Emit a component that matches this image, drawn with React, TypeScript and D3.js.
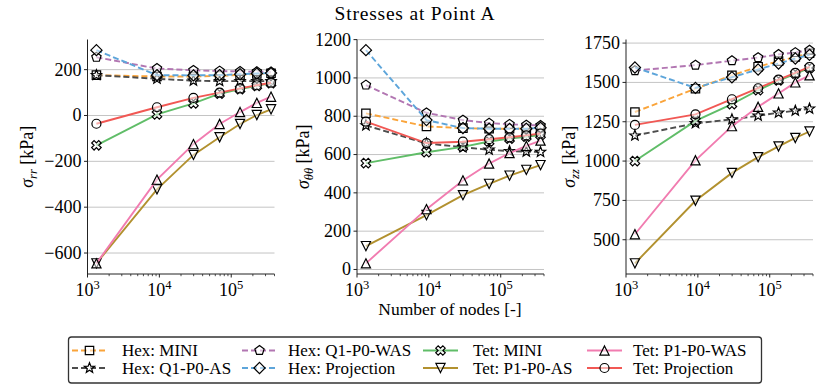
import { useRef, useEffect } from "react";
import * as d3 from "d3";

// number of nodes of the meshes
const nodeCounts = [1331, 9261, 29791, 68921, 132651, 226981, 357911];

const seriesNames = [
  "Hex: MINI",
  "Hex: Q1-P0-AS",
  "Hex: Q1-P0-WAS",
  "Hex: Projection",
  "Tet: MINI",
  "Tet: P1-P0-AS",
  "Tet: P1-P0-WAS",
  "Tet: Projection",
];
const seriesColors = ["#FAA43A", "#4D4D4D", "#B276B2", "#5DA5DA", "#60BD68", "#B2912F", "#F17CB0", "#F15854"];
const seriesDashed = [true, true, true, true, false, false, false, false];
const seriesMarkers = ["square", "star", "pentagon", "diamond", "x", "triDown", "triUp", "circle"];

// sigma_rr [kPa], rows in series order
const sigmaRR = [
  [176, 170, 170, 173, 177, 181, 184],
  [176, 160, 152, 150, 150, 150, 150],
  [254, 205, 197, 194, 192, 191, 190],
  [285, 176, 175, 176, 180, 183, 185],
  [-130, 5, 53, 95, 115, 129, 141],
  [-645, -322, -172, -95, -37, 2, 27],
  [-645, -280, -125, -37, 15, 55, 82],
  [-36, 36, 77, 100, 118, 132, 143],
];

// sigma_thetatheta [kPa]
const sigmaTT = [
  [815, 747, 738, 735, 735, 736, 738],
  [752, 658, 638, 625, 618, 615, 613],
  [963, 818, 780, 764, 758, 754, 752],
  [1145, 780, 738, 735, 734, 735, 740],
  [555, 612, 640, 668, 683, 693, 702],
  [122, 284, 388, 447, 490, 520, 545],
  [32, 315, 465, 553, 608, 645, 673],
  [772, 660, 667, 680, 690, 700, 710],
];

// sigma_zz [kPa]
const sigmaZZ = [
  [1312, 1460, 1545, 1600, 1635, 1662, 1685],
  [1162, 1240, 1265, 1288, 1307, 1320, 1333],
  [1575, 1610, 1638, 1658, 1678, 1690, 1705],
  [1595, 1465, 1533, 1582, 1620, 1652, 1675],
  [1000, 1255, 1362, 1450, 1512, 1555, 1592],
  [350, 748, 925, 1025, 1093, 1147, 1188],
  [535, 1005, 1222, 1345, 1430, 1500, 1545],
  [1230, 1297, 1393, 1463, 1518, 1560, 1598],
];

const yTicksRR = [-600, -400, -200, 0, 200];
const yTicksTT = [0, 200, 400, 600, 800, 1000, 1200];
const yTicksZZ = [500, 750, 1000, 1250, 1500, 1750];
const xTickExponents = [3, 4, 5];
const xLimits = [1e3, 4e5];

const FONT = "'Liberation Serif', 'Times New Roman', serif";

function polygon(pts) {
  return "M" + pts.map((p) => p[0].toFixed(2) + "," + p[1].toFixed(2)).join("L") + "Z";
}

function markerPath(kind) {
  switch (kind) {
    case "square": {
      const s = 4.2;
      return polygon([[-s, -s], [s, -s], [s, s], [-s, s]]);
    }
    case "diamond": {
      const r = 5.6;
      return polygon([[0, -r], [r, 0], [0, r], [-r, 0]]);
    }
    case "pentagon":
      return polygon(
        d3.range(5).map((k) => {
          const a = -Math.PI / 2 + (k * 2 * Math.PI) / 5;
          return [4.9 * Math.cos(a), 4.9 * Math.sin(a)];
        })
      );
    case "star":
      return polygon(
        d3.range(10).map((k) => {
          const a = -Math.PI / 2 + (k * Math.PI) / 5;
          const r = k % 2 ? 2.3 : 5.4;
          return [r * Math.cos(a), r * Math.sin(a)];
        })
      );
    case "x": {
      const a = 5,
        b = 1.7;
      const plus = [[b, -a], [b, -b], [a, -b], [a, b], [b, b], [b, a], [-b, a], [-b, b], [-a, b], [-a, -b], [-b, -b], [-b, -a]];
      const c = Math.SQRT1_2;
      return polygon(plus.map(([x, y]) => [c * (x - y), c * (x + y)]));
    }
    case "triUp": {
      const r = 4.6;
      return polygon([[0, -r], [r, r], [-r, r]]);
    }
    case "triDown": {
      const r = 4.6;
      return polygon([[0, r], [r, -r], [-r, -r]]);
    }
    default: {
      const r = 4.5;
      return `M${r},0A${r},${r} 0 1,1 ${-r},0A${r},${r} 0 1,1 ${r},0Z`;
    }
  }
}

const panels = [
  { data: sigmaRR, ticks: yTicksRR, sub: "rr", left: 87.5, labelX: 27 },
  { data: sigmaTT, ticks: yTicksTT, sub: "θθ", left: 357, labelX: 303 },
  { data: sigmaZZ, ticks: yTicksZZ, sub: "zz", left: 626, labelX: 569 },
];

const App = () => {
  const svgRef = useRef(null);

  useEffect(() => {
    document.body.style.margin = "0";
    const svg = d3.select(svgRef.current);
    svg.selectAll("*").remove();

    const width = 187;
    const top = 39.5;
    const bottom = 274;

    svg
      .append("text")
      .attr("x", 415)
      .attr("y", 20)
      .attr("text-anchor", "middle")
      .style("font-family", FONT)
      .style("font-size", "19.5px")
      .style("letter-spacing", "0.8px")
      .text("Stresses at Point A");

    panels.forEach((panel) => {
      const all = panel.data.flat();
      const [lo, hi] = d3.extent(all);
      const pad = (hi - lo) * 0.05;
      const y = d3.scaleLinear().domain([lo - pad, hi + pad]).range([bottom, top]);
      const x = d3.scaleLog().domain(xLimits).range([panel.left, panel.left + width]);

      const g = svg.append("g");

      // grid
      g.selectAll(".grid")
        .data(panel.ticks)
        .join("line")
        .attr("x1", panel.left)
        .attr("x2", panel.left + width)
        .attr("y1", (d) => y(d))
        .attr("y2", (d) => y(d))
        .attr("stroke", "#c4c4c4")
        .attr("stroke-width", 1);

      // series
      panel.data.forEach((values, i) => {
        const pts = values.map((v, j) => [nodeCounts[j], v]);
        g.append("path")
          .attr(
            "d",
            d3
              .line()
              .x((d) => x(d[0]))
              .y((d) => y(d[1]))(pts)
          )
          .attr("fill", "none")
          .attr("stroke", seriesColors[i])
          .attr("stroke-width", 1.9)
          .attr("stroke-dasharray", seriesDashed[i] ? "6,3" : null);
        g.selectAll(null)
          .data(pts)
          .join("path")
          .attr("transform", (d) => `translate(${x(d[0])},${y(d[1])})`)
          .attr("d", markerPath(seriesMarkers[i]))
          .attr("fill", "white")
          .attr("fill-opacity", 0.5)
          .attr("stroke", "#000")
          .attr("stroke-width", 1.2);
      });

      // spines
      g.append("line")
        .attr("x1", panel.left)
        .attr("x2", panel.left)
        .attr("y1", top)
        .attr("y2", bottom)
        .attr("stroke", "#222")
        .attr("stroke-width", 1);
      g.append("line")
        .attr("x1", panel.left)
        .attr("x2", panel.left + width)
        .attr("y1", bottom)
        .attr("y2", bottom)
        .attr("stroke", "#222")
        .attr("stroke-width", 1);

      // y ticks
      panel.ticks.forEach((t) => {
        g.append("line")
          .attr("x1", panel.left - 3.5)
          .attr("x2", panel.left)
          .attr("y1", y(t))
          .attr("y2", y(t))
          .attr("stroke", "#222");
        g.append("text")
          .attr("x", panel.left - 6)
          .attr("y", y(t))
          .attr("dy", "0.33em")
          .attr("text-anchor", "end")
          .style("font-family", FONT)
          .style("font-size", "18px")
          .text(t < 0 ? "\u2212" + Math.abs(t) : String(t));
      });

      // x minor ticks
      const minors = [];
      for (let e = 3; e <= 5; e++) {
        for (let m = 2; m <= 9; m++) {
          const v = m * Math.pow(10, e);
          if (v <= xLimits[1]) minors.push(v);
        }
      }
      g.selectAll(null)
        .data(minors)
        .join("line")
        .attr("x1", (d) => x(d))
        .attr("x2", (d) => x(d))
        .attr("y1", bottom)
        .attr("y2", bottom + 2.2)
        .attr("stroke", "#222")
        .attr("stroke-width", 0.8);

      // x major ticks
      xTickExponents.forEach((e) => {
        const xv = x(Math.pow(10, e));
        g.append("line")
          .attr("x1", xv)
          .attr("x2", xv)
          .attr("y1", bottom)
          .attr("y2", bottom + 3.5)
          .attr("stroke", "#222");
        const t = g
          .append("text")
          .attr("x", xv)
          .attr("y", 296)
          .attr("text-anchor", "middle")
          .style("font-family", FONT)
          .style("font-size", "18px");
        t.append("tspan").text("10");
        t.append("tspan").attr("dy", -7).style("font-size", "12.5px").text(String(e));
      });

      // y label
      const yc = (top + bottom) / 2;
      const lab = g
        .append("text")
        .attr("transform", `translate(${panel.labelX},${yc}) rotate(-90)`)
        .attr("text-anchor", "middle")
        .attr("dy", "0.33em")
        .style("font-family", FONT)
        .style("font-size", "18px");
      lab.append("tspan").style("font-style", "italic").text("σ");
      lab.append("tspan").attr("dy", 4).style("font-style", "italic").style("font-size", "12.5px").text(panel.sub);
      lab.append("tspan").attr("dy", -4).text(" [kPa]");
    });

    svg
      .append("text")
      .attr("x", 450)
      .attr("y", 315)
      .attr("text-anchor", "middle")
      .style("font-family", FONT)
      .style("font-size", "17.5px")
      .text("Number of nodes [-]");

    // legend
    svg
      .append("rect")
      .attr("x", 68.5)
      .attr("y", 337)
      .attr("width", 693)
      .attr("height", 46)
      .attr("rx", 3)
      .attr("fill", "white")
      .attr("stroke", "#333")
      .attr("stroke-width", 1.3);

    const colX = [72, 242, 423, 587];
    const textX = [122, 288, 473, 633];
    const rowY = [350.5, 368];
    seriesNames.forEach((name, i) => {
      const col = Math.floor(i / 2);
      const row = i % 2;
      const hx = colX[col];
      const hy = rowY[row];
      svg
        .append("line")
        .attr("x1", hx)
        .attr("x2", hx + 35)
        .attr("y1", hy)
        .attr("y2", hy)
        .attr("stroke", seriesColors[i])
        .attr("stroke-width", 1.9)
        .attr("stroke-dasharray", seriesDashed[i] ? "6,3" : null);
      svg
        .append("path")
        .attr("transform", `translate(${hx + 17.5},${hy})`)
        .attr("d", markerPath(seriesMarkers[i]))
        .attr("fill", "white")
        .attr("fill-opacity", 0.5)
        .attr("stroke", "#000")
        .attr("stroke-width", 1.2);
      svg
        .append("text")
        .attr("x", textX[col])
        .attr("y", hy)
        .attr("dy", "0.33em")
        .style("font-family", FONT)
        .style("font-size", "17px")
        .text(name);
    });
  }, []);

  return <svg ref={svgRef} width={831} height={391} style={{ display: "block", background: "white" }}></svg>;
};

export default App;
